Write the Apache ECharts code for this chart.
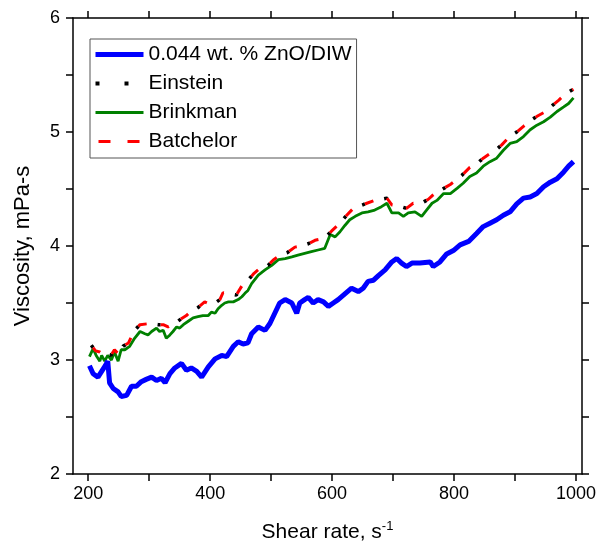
<!DOCTYPE html>
<html>
<head>
<meta charset="utf-8">
<script src="https://cdn.jsdelivr.net/npm/echarts@6/dist/echarts.min.js"></script>
<style>html,body{margin:0;padding:0;background:#fff}#c{width:598px;height:546px}</style>
</head>
<body>
<div id="c"></div>
<script>
// Shear rate (s^-1) and viscosity (mPa-s)
const znoX = [202,208,216,222,228,232,235,241,249,254,263,271,279,287,295,304,312,320,326,334,342,353,361,369,378,386,397,408,419,427,438,446,454,462,468,479,490,498,506,514,523,534,542,547,555,561,569,577,586,594,602,610,621,632,643,651,659,668,676,687,698,706,714,722,731,744,761,766,777,788,799,810,824,837,848,859,870,881,892,903,914,925,936,947,958,969,980,988,996];
const znoY = [2.95,2.88,2.85,2.90,2.95,2.99,2.80,2.75,2.72,2.68,2.69,2.77,2.77,2.81,2.83,2.85,2.82,2.84,2.80,2.88,2.93,2.97,2.91,2.93,2.90,2.85,2.94,3.01,3.04,3.03,3.12,3.16,3.14,3.15,3.23,3.29,3.26,3.32,3.41,3.50,3.53,3.50,3.41,3.50,3.53,3.55,3.50,3.53,3.51,3.47,3.50,3.53,3.58,3.63,3.60,3.63,3.69,3.70,3.74,3.79,3.86,3.89,3.85,3.82,3.85,3.85,3.86,3.82,3.86,3.93,3.96,4.01,4.04,4.11,4.17,4.20,4.23,4.27,4.30,4.37,4.42,4.43,4.46,4.52,4.56,4.59,4.65,4.70,4.74];

const brinkX = [202,208,213,219,222,227,232,238,243,249,254,260,268,276,285,293,298,304,312,317,323,328,334,339,345,350,356,364,372,380,388,397,402,408,413,419,424,430,438,446,452,457,462,468,479,490,501,512,523,534,544,555,566,577,588,597,605,613,621,629,638,649,659,670,681,690,698,709,717,725,736,747,755,764,772,783,794,805,815,826,837,848,859,870,881,892,903,914,925,936,947,958,969,980,988,996];
const brinkY = [3.03,3.10,3.04,2.99,3.04,2.99,3.04,3.00,3.07,2.99,3.09,3.09,3.12,3.19,3.25,3.23,3.22,3.25,3.28,3.25,3.26,3.19,3.22,3.25,3.29,3.28,3.31,3.34,3.37,3.38,3.39,3.39,3.42,3.41,3.45,3.48,3.50,3.51,3.51,3.53,3.555,3.585,3.61,3.67,3.745,3.79,3.83,3.88,3.89,3.905,3.92,3.935,3.95,3.965,3.98,4.10,4.08,4.125,4.18,4.23,4.26,4.29,4.30,4.315,4.345,4.375,4.29,4.29,4.26,4.29,4.30,4.26,4.315,4.375,4.40,4.46,4.46,4.505,4.55,4.61,4.64,4.70,4.74,4.77,4.84,4.90,4.915,4.96,5.02,5.06,5.09,5.13,5.18,5.22,5.25,5.30];

const batchX = [205,212,219,225,230,237,243,250,257,266,276,285,301,315,323,331,342,352,361,367,380,391,399,408,416,421,432,443,452,462,472,483,495,504,515,526,539,550,561,572,588,599,608,616,624,633,645,657,670,681,690,698,710,722,733,745,758,764,772,783,794,804,813,826,837,848,859,868,878,892,903,914,928,937,947,963,972,980,988,996];
const batchY = [3.13,3.08,3.07,3.05,3.06,3.04,3.09,3.05,3.12,3.15,3.26,3.31,3.32,3.31,3.31,3.29,3.32,3.36,3.39,3.42,3.46,3.51,3.49,3.50,3.53,3.59,3.58,3.57,3.65,3.70,3.76,3.81,3.83,3.88,3.92,3.94,3.99,4.00,4.02,4.05,4.07,4.13,4.175,4.22,4.27,4.32,4.35,4.375,4.40,4.41,4.42,4.36,4.35,4.33,4.375,4.37,4.41,4.44,4.47,4.505,4.54,4.58,4.62,4.69,4.72,4.77,4.81,4.84,4.885,4.965,5.00,5.05,5.11,5.14,5.17,5.24,5.28,5.32,5.35,5.375];

// Einstein coincides with Batchelor in the picture
const einsteinX = [205,212,219,225,230,237,243,250,257,266,276,285,301,315,323,331,342,352,361,367,380,391,399,408,416,421,432,443,452,462,472,483,495,504,515,526,539,550,561,572,588,599,608,616,624,633,645,657,670,681,690,698,710,722,733,745,758,764,772,783,794,804,813,826,837,848,859,868,878,892,903,914,928,937,947,963,972,980,988,996];
const einsteinY = [3.13,3.08,3.07,3.05,3.06,3.04,3.09,3.05,3.12,3.15,3.26,3.31,3.32,3.31,3.31,3.29,3.32,3.36,3.39,3.42,3.46,3.51,3.49,3.50,3.53,3.59,3.58,3.57,3.65,3.70,3.76,3.81,3.83,3.88,3.92,3.94,3.99,4.00,4.02,4.05,4.07,4.13,4.175,4.22,4.27,4.32,4.35,4.375,4.40,4.41,4.42,4.36,4.35,4.33,4.375,4.37,4.41,4.44,4.47,4.505,4.54,4.58,4.62,4.69,4.72,4.77,4.81,4.84,4.885,4.965,5.00,5.05,5.11,5.14,5.17,5.24,5.28,5.32,5.35,5.375];

const xTicks = [200,300,400,500,600,700,800,900,1000];
const xLabels = [200,400,600,800,1000];
const yLabels = [2,3,4,5,6];
const names = ['0.044 wt. % ZnO/DIW','Einstein','Brinkman','Batchelor'];

const pairs = (xs, ys) => xs.map((x, i) => [x, ys[i]]);
const FONT = '"Liberation Sans", Arial, sans-serif';

const styles = {
  zno: {color: '#0000ff', width: 5},
  ein: {color: '#000000', width: 3.5, type: [3, 20]},
  brk: {color: '#008000', width: 2.8},
  bat: {color: '#ff0000', width: 3, type: [9, 14], dashOffset: -3}
};
const legendStyles = {
  zno: {color: '#0000ff', width: 5},
  ein: {color: '#000000', width: 4, type: [4, 25]},
  brk: {color: '#008000', width: 3},
  bat: {color: '#ff0000', width: 3, type: [12, 17]}
};

const chart = echarts.init(document.getElementById('c'), null, {renderer: 'canvas'});
const axisLine = {show: true, onZero: false, lineStyle: {color: '#000', width: 1.5}};
const tickStyle = {color: '#000', width: 1.5};
chart.setOption({
  animation: false,
  backgroundColor: '#fff',
  grid: {left: 73, right: 16, top: 18, bottom: 72, containLabel: false, outerBoundsMode: 'none'},
  legend: {
    data: [
      {name: names[0], lineStyle: legendStyles.zno},
      {name: names[1], lineStyle: legendStyles.ein},
      {name: names[2], lineStyle: legendStyles.brk},
      {name: names[3], lineStyle: legendStyles.bat}
    ],
    orient: 'vertical',
    left: 90, top: 39,
    padding: [5, 5, 6, 3],
    itemWidth: 48, itemHeight: 14, itemGap: 8,
    borderColor: '#555', borderWidth: 1, borderRadius: 0,
    backgroundColor: '#fff',
    itemStyle: {opacity: 0},
    textStyle: {fontFamily: FONT, fontSize: 21, color: '#000'}
  },
  xAxis: [{
    type: 'value', min: 175, max: 1010, position: 'bottom',
    name: '{a|Shear rate, s}{b|-1}', nameLocation: 'middle', nameGap: 46,
    nameTextStyle: {rich: {
      a: {fontFamily: FONT, fontSize: 21, color: '#000', lineHeight: 24},
      b: {fontFamily: FONT, fontSize: 13, color: '#000', lineHeight: 14, verticalAlign: 'top'}
    }},
    axisLine: axisLine,
    axisTick: {show: true, customValues: xTicks, length: 7, inside: false, lineStyle: tickStyle},
    axisLabel: {customValues: xLabels, formatter: v => String(v), fontFamily: FONT, fontSize: 18, color: '#000', margin: 11},
    splitLine: {show: false}
  }, {
    type: 'value', min: 175, max: 1010, position: 'top',
    axisLine: axisLine,
    axisTick: {show: true, customValues: xTicks, length: 7, inside: false, lineStyle: tickStyle},
    axisLabel: {show: false},
    splitLine: {show: false}
  }],
  yAxis: [{
    type: 'value', min: 2, max: 6, interval: 0.5, position: 'left',
    name: 'Viscosity, mPa-s', nameLocation: 'middle', nameGap: 39,
    nameTextStyle: {fontFamily: FONT, fontSize: 22, color: '#000'},
    axisLine: axisLine,
    axisTick: {show: true, length: 7, inside: false, lineStyle: tickStyle},
    axisLabel: {customValues: yLabels, formatter: v => String(v), fontFamily: FONT, fontSize: 18, color: '#000', margin: 13},
    splitLine: {show: false}
  }, {
    type: 'value', min: 2, max: 6, interval: 0.5, position: 'right',
    axisLine: axisLine,
    axisTick: {show: true, length: 7, inside: false, lineStyle: tickStyle},
    axisLabel: {show: false},
    splitLine: {show: false}
  }],
  series: [{
    name: names[2], type: 'line', data: pairs(brinkX, brinkY), symbol: 'none',
    lineStyle: styles.brk, itemStyle: {color: styles.brk.color}, z: 2
  }, {
    name: names[0], type: 'line', data: pairs(znoX, znoY), symbol: 'none',
    lineStyle: styles.zno, itemStyle: {color: styles.zno.color}, z: 3
  }, {
    name: names[1], type: 'line', data: pairs(einsteinX, einsteinY), symbol: 'none',
    lineStyle: styles.ein, itemStyle: {color: styles.ein.color}, z: 4
  }, {
    name: names[3], type: 'line', data: pairs(batchX, batchY), symbol: 'none',
    lineStyle: styles.bat, itemStyle: {color: styles.bat.color}, z: 5
  }]
});
</script>
</body>
</html>
